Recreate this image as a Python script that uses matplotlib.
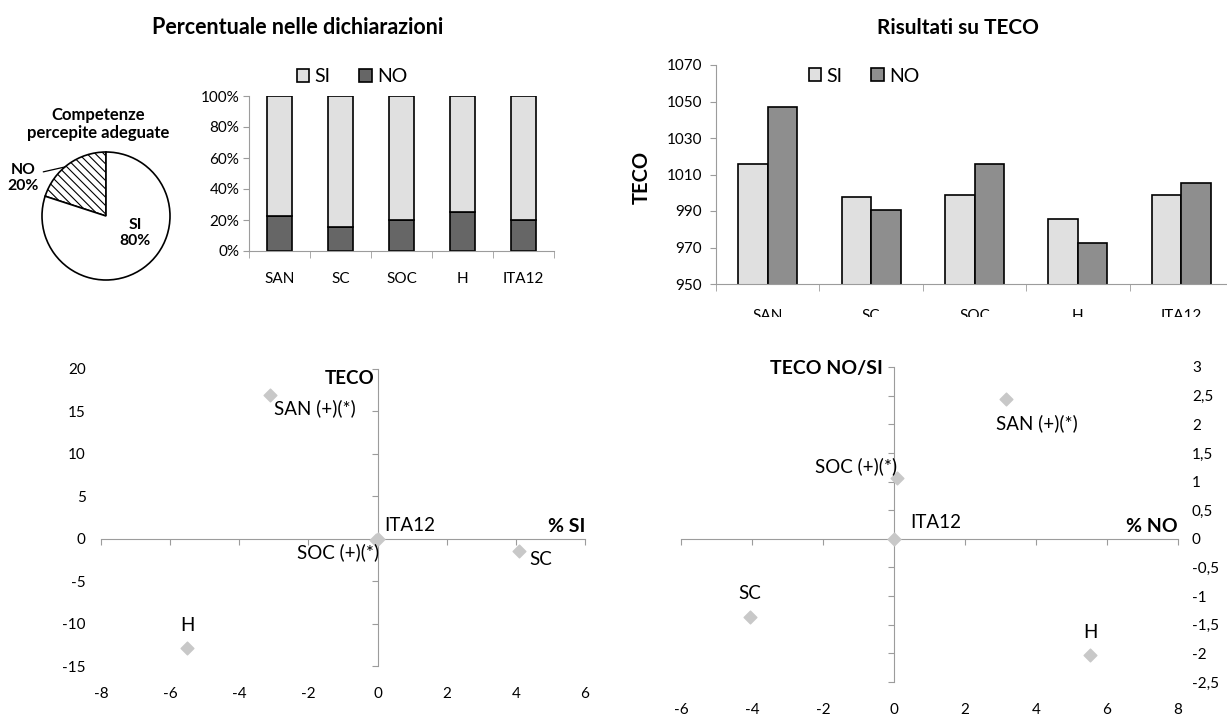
import numpy as np
import matplotlib
matplotlib.use("Agg")
import matplotlib.pyplot as plt
from matplotlib.transforms import Bbox, TransformedBbox

plt.rcParams['font.family'] = ['Lato', 'DejaVu Sans']
plt.rcParams['hatch.linewidth'] = 0.8

# ---- data ----
categories = ['SAN', 'SC', 'SOC', 'H', 'ITA12']

pie_labels = ['NO', 'SI']
pie_values = [20, 80]

pct_no = [22.9, 15.6, 19.9, 25.3, 19.9]
pct_si = [100 - v for v in pct_no]
pct_ticks = [0, 20, 40, 60, 80, 100]

teco_si = [1015.8, 997.6, 998.5, 985.6, 998.7]
teco_no = [1047.0, 990.7, 1015.5, 972.4, 1005.4]
teco_ticks = [950, 970, 990, 1010, 1030, 1050, 1070]

point_names = ['SAN (+)(*)', 'SC', 'SOC (+)(*)', 'H', 'ITA12']
si_diff_x = [-3.12, 4.09, -0.05, -5.51, 0.0]
si_diff_y = [16.9, -1.5, -0.1, -12.9, 0.0]
no_diff_x = [3.15, -4.06, 0.08, 5.52, 0.0]
no_diff_y = [2.44, -1.36, 1.06, -2.02, 0.0]

left_xticks = [-8, -6, -4, -2, 0, 2, 4, 6]
left_yticks = [-15, -10, -5, 0, 5, 10, 15, 20]
right_xticks = [-6, -4, -2, 0, 2, 4, 6, 8]
right_yticks = [-2.5, -2, -1.5, -1, -0.5, 0, 0.5, 1, 1.5, 2, 2.5, 3]

# ---- style ----
W, H = 1227, 715
GREY = '#9c9c9c'
LIGHT = '#e0e0e0'
DARK = '#666666'
MID = '#8e8e8e'
MARK = '#c8c8c8'
TICK = 11


def box(left, top, right, bottom):
    # pixel box -> figure fraction
    return [left / W, 1 - bottom / H, (right - left) / W, (bottom - top) / H]


fig = plt.figure(figsize=(W / 100, H / 100), dpi=100)

fig.text(298 / W, 1 - 28 / H, 'Percentuale nelle dichiarazioni',
         ha='center', va='center', fontsize=15.5, fontweight='bold')
fig.text(958 / W, 1 - 28 / H, 'Risultati su TECO',
         ha='center', va='center', fontsize=15, fontweight='bold')

# ---- pie ----
axp = fig.add_axes(box(42, 152, 170, 280))
wedges, _ = axp.pie(pie_values, startangle=90, counterclock=True,
                    colors=['white', 'white'],
                    wedgeprops=dict(edgecolor='black', linewidth=1.2))
wedges[0].set_hatch('\\\\\\\\')
for w in wedges:
    w.set_clip_on(False)
axp.set_xlim(-1, 1)
axp.set_ylim(-1, 1)
axp.set_aspect('equal')
fig.text(98 / W, 1 - 124 / H, 'Competenze\npercepite adeguate',
         ha='center', va='center', fontsize=12, fontweight='bold', linespacing=1.1)
a = np.deg2rad((wedges[0].theta1 + wedges[0].theta2) / 2 + 4)
axp.annotate(f'{pie_labels[0]}\n{pie_values[0]}%', xy=(np.cos(a), np.sin(a)),
             xytext=(-1.29, 0.59), ha='center', va='center', fontsize=11.3,
             fontweight='bold', linespacing=1.2,
             arrowprops=dict(arrowstyle='-', lw=0.9, color='black',
                             relpos=(1.0, 0.68), shrinkA=1, shrinkB=0))
axp.text(0.45, -0.27, f'{pie_labels[1]}\n{pie_values[1]}%', ha='center', va='center',
         fontsize=11.3, fontweight='bold', linespacing=1.2)

# ---- stacked percent bars ----
ax1 = fig.add_axes(box(249, 96, 554, 251))
x = np.arange(len(categories))
ax1.bar(x, pct_no, width=0.4, color=DARK, edgecolor='black', linewidth=1.2, label='NO')
ax1.bar(x, pct_si, width=0.4, bottom=pct_no, color=LIGHT, edgecolor='black',
        linewidth=1.2, label='SI')
ax1.set_xlim(-0.5, len(categories) - 0.5)
ax1.set_ylim(0, 100)
ax1.set_yticks(pct_ticks)
ax1.set_yticklabels([f'{t}%' for t in pct_ticks])
ax1.set_xticks(x)
ax1.set_xticklabels(categories)
ax1.set_xticks(np.arange(len(categories) + 1) - 0.5, minor=True)
ax1.tick_params(axis='x', which='major', length=0, pad=15, labelsize=TICK)
ax1.tick_params(axis='x', which='minor', length=5, color=GREY)
ax1.tick_params(axis='y', length=4, color=GREY, pad=3, labelsize=TICK)
for s in ['top', 'right']:
    ax1.spines[s].set_visible(False)
for s in ['left', 'bottom']:
    ax1.spines[s].set_color(GREY)
h, l = ax1.get_legend_handles_labels()
ax1.legend(h[::-1], l[::-1], ncol=2, loc='center', bbox_to_anchor=(352 / W, 1 - 77 / H),
           bbox_transform=fig.transFigure, frameon=False, fontsize=14,
           handlelength=0.65, handleheight=0.65, handletextpad=0.25, columnspacing=1.5,
           borderpad=0)

# ---- TECO bars ----
ax2 = fig.add_axes(box(716, 65, 1233, 284))
bw = 0.285
ax2.bar(x - bw / 2, teco_si, width=bw, color=LIGHT, edgecolor='black', linewidth=1.2, label='SI')
ax2.bar(x + bw / 2, teco_no, width=bw, color=MID, edgecolor='black', linewidth=1.2, label='NO')
ax2.set_xlim(-0.5, len(categories) - 0.5)
ax2.set_ylim(teco_ticks[0], teco_ticks[-1])
ax2.set_yticks(teco_ticks)
ax2.set_xticks(x)
ax2.set_xticklabels(categories)
ax2.set_xticks(np.arange(len(categories) + 1) - 0.5, minor=True)
ax2.tick_params(axis='x', which='major', length=0, pad=18, labelsize=TICK)
ax2.tick_params(axis='x', which='minor', length=5, color=GREY)
ax2.tick_params(axis='y', length=4, color=GREY, pad=6, labelsize=TICK)
for s in ['top', 'right']:
    ax2.spines[s].set_visible(False)
for s in ['left', 'bottom']:
    ax2.spines[s].set_color(GREY)
clip = TransformedBbox(Bbox([[0, 1 - 317 / H], [1, 1]]), fig.transFigure)
for lbl in ax2.get_xticklabels():
    lbl.set_clip_box(clip)
    lbl.set_clip_on(True)
ax2.legend(ncol=2, loc='center', bbox_to_anchor=(864 / W, 1 - 76 / H),
           bbox_transform=fig.transFigure, frameon=False, fontsize=14,
           handlelength=0.65, handleheight=0.65, handletextpad=0.25, columnspacing=1.5,
           borderpad=0)
fig.text(642 / W, 1 - 177 / H, 'TECO', rotation=90, ha='center', va='center',
         fontsize=14.5, fontweight='bold')


# ---- quadrant scatters ----
def quadrant(ax, xs, ys, xticks, yticks, ylabel_side, xpad, ypad):
    ax.set_xlim(xticks[0], xticks[-1])
    ax.set_ylim(yticks[0], yticks[-1])
    for s in ax.spines.values():
        s.set_visible(False)
    for s in ['left', 'bottom']:
        ax.spines[s].set_visible(True)
        ax.spines[s].set_position(('data', 0))
        ax.spines[s].set_color(GREY)
    ax.set_xticks(xticks)
    ax.set_yticks(yticks)
    ax.tick_params(labelbottom=False, labelleft=False, length=4, color=GREY)
    sx = ax.secondary_xaxis('bottom')
    sx.set_xticks(xticks)
    sx.set_xticklabels([f'{t:g}' for t in xticks])
    sx.tick_params(length=0, pad=xpad, labelsize=TICK)
    sx.spines['bottom'].set_visible(False)
    sy = ax.secondary_yaxis(ylabel_side)
    sy.set_yticks(yticks)
    sy.set_yticklabels([f'{t:g}'.replace('.', ',') for t in yticks])
    sy.tick_params(length=0, pad=ypad, labelsize=TICK)
    sy.spines[ylabel_side].set_visible(False)
    ax.scatter(xs, ys, marker='D', s=42, color=MARK, zorder=3, clip_on=False)


LBL = 13.5
ax3 = fig.add_axes(box(101, 369, 585, 666))
quadrant(ax3, si_diff_x, si_diff_y, left_xticks, left_yticks, 'left', 15, 11)
left_offsets = [(4, -13, 'left'), (10, -8, 'left'), (3, -13, 'right'), (0, 23, 'center'), (7, 13, 'left')]
for name, px, py, (dx, dy, ha) in zip(point_names, si_diff_x, si_diff_y, left_offsets):
    ax3.annotate(name, (px, py), xytext=(dx, dy), textcoords='offset pixels',
                 ha=ha, va='center', fontsize=LBL)
ax3.text(-0.1, 18.9, 'TECO', ha='right', va='center', fontsize=13.5, fontweight='bold')
ax3.text(6, 1.4, '% SI', ha='right', va='center', fontsize=14, fontweight='bold')

ax4 = fig.add_axes(box(681, 367, 1178, 682))
quadrant(ax4, no_diff_x, no_diff_y, right_xticks, right_yticks, 'right', 15, 10)
right_offsets = [(31, -24, 'center'), (0, 23, 'center'), (0, 12, 'right'), (0, 22, 'center'), (16, 16, 'left')]
for name, px, py, (dx, dy, ha) in zip(point_names, no_diff_x, no_diff_y, right_offsets):
    ax4.annotate(name, (px, py), xytext=(dx, dy), textcoords='offset pixels',
                 ha=ha, va='center', fontsize=LBL)
ax4.text(-0.31, 2.98, 'TECO NO/SI', ha='right', va='center', fontsize=14, fontweight='bold')
ax4.text(8, 0.21, '% NO', ha='right', va='center', fontsize=14, fontweight='bold')

fig.savefig('out.png', dpi=100)
